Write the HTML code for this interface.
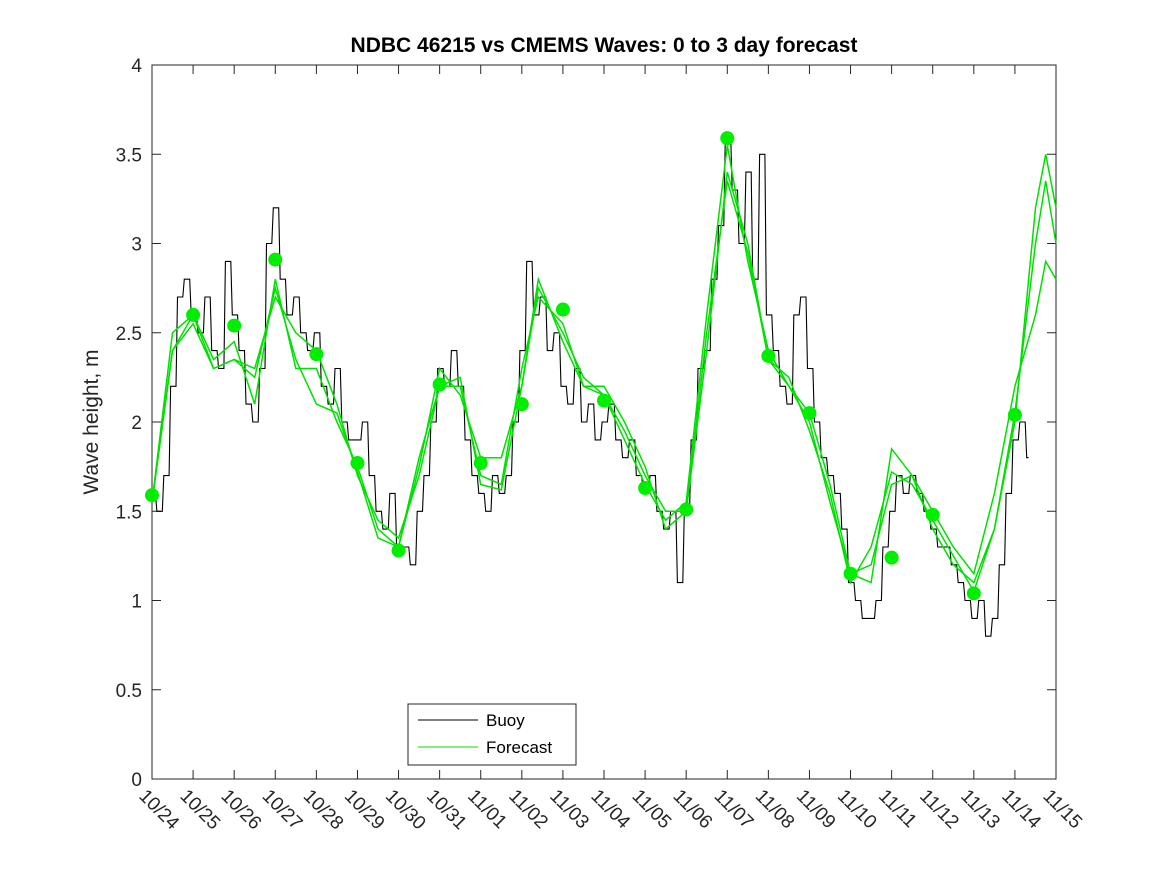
<!DOCTYPE html>
<html><head><meta charset="utf-8"><style>
body{margin:0;background:#fff}
svg{display:block;font-family:"Liberation Sans","DejaVu Sans",sans-serif}
</style></head><body>
<svg id="chart" width="1167" height="875">
<rect x="0" y="0" width="1167" height="875" fill="#fff"/>
<text x="604" y="52" text-anchor="middle" font-size="21" font-weight="bold">NDBC 46215 vs CMEMS Waves: 0 to 3 day forecast</text>
<text transform="translate(98,422) rotate(-90)" text-anchor="middle" font-size="21" fill="#262626">Wave height, m</text>
<g id="axes"></g>
<g id="marks"></g>
<g>
<rect x="408" y="704" width="168" height="61" fill="#fff" stroke="#262626" stroke-width="1"/>
<line x1="418" y1="720" x2="478" y2="720" stroke="#000" stroke-width="1"/>
<text x="486" y="726" font-size="17">Buoy</text>
<line x1="418" y1="747" x2="478" y2="747" stroke="#00dd00" stroke-width="1"/>
<text x="486" y="753" font-size="17">Forecast</text>
</g>
</svg>
<script>
const xTickLabels=["10/24","10/25","10/26","10/27","10/28","10/29","10/30","10/31","11/01","11/02","11/03","11/04","11/05","11/06","11/07","11/08","11/09","11/10","11/11","11/12","11/13","11/14","11/15"];
const yTicks=[0,0.5,1,1.5,2,2.5,3,3.5,4];
const yTickLabels=["0","0.5","1","1.5","2","2.5","3","3.5","4"];
const buoyStep=1/6;
const buoy=[1.6,1.5,1.7,2.2,2.7,2.8,
2.6,2.5,2.7,2.4,2.3,2.9,
2.6,2.4,2.1,2.0,2.3,3.0,
3.2,2.8,2.6,2.7,2.5,2.4,
2.5,2.2,2.1,2.3,2.0,1.9,
1.9,2.0,1.7,1.5,1.4,1.6,
1.3,1.3,1.2,1.5,1.7,2.0,
2.3,2.2,2.4,2.2,1.9,1.7,
1.6,1.5,1.7,1.6,1.7,2.0,
2.4,2.9,2.6,2.7,2.4,2.5,
2.2,2.1,2.3,2.0,2.1,1.9,
2.0,2.1,1.9,1.8,1.9,1.7,
1.6,1.7,1.5,1.4,1.5,1.1,
1.5,1.9,2.3,2.4,2.8,3.1,
3.6,3.3,3.0,3.4,2.8,3.5,
2.6,2.4,2.2,2.1,2.6,2.7,
2.3,2.0,1.8,1.7,1.6,1.4,
1.1,1.0,0.9,0.9,1.0,1.3,
1.5,1.7,1.6,1.7,1.6,1.5,
1.4,1.3,1.3,1.2,1.1,1.0,
0.9,1.0,0.8,0.9,1.2,1.6,
1.9,2.0,1.8];
const fcDays=[0,0.5,1,1.5,2,2.5,3,3.5,4,4.5,5,5.5,6,6.5,7,7.5,8,8.5,9,9.4,10,10.5,11,11.5,12,12.5,13,13.5,14,14.5,15,15.5,16,16.5,17,17.5,18,18.5,19,19.5,20,20.5,21,21.5,21.75,22];
const fcA=[1.55,2.4,2.6,2.35,2.45,2.1,2.8,2.3,2.3,2.0,1.75,1.4,1.3,1.75,2.3,2.15,1.8,1.8,2.2,2.8,2.45,2.2,2.15,1.9,1.65,1.45,1.55,2.6,3.55,2.9,2.4,2.2,2.0,1.55,1.15,1.1,1.85,1.7,1.4,1.2,1.1,1.4,2.0,3.2,3.5,3.2];
const fcB=[1.55,2.4,2.55,2.3,2.35,2.3,2.7,2.5,2.4,2.1,1.7,1.45,1.35,1.7,2.2,2.25,1.65,1.62,2.2,2.75,2.5,2.25,2.15,1.95,1.7,1.5,1.5,2.5,3.35,2.95,2.35,2.25,1.95,1.6,1.1,1.3,1.72,1.65,1.45,1.25,1.05,1.4,2.05,3.0,3.35,3.0];
const fcC=[1.55,2.5,2.6,2.3,2.35,2.25,2.75,2.35,2.1,2.05,1.72,1.35,1.3,1.8,2.2,2.2,1.7,1.65,2.3,2.7,2.55,2.2,2.2,2.0,1.75,1.4,1.5,2.4,3.4,3.0,2.35,2.2,2.05,1.65,1.15,1.2,1.65,1.7,1.5,1.3,1.15,1.6,2.2,2.6,2.9,2.8];
const dotValues=[1.59,2.6,2.54,2.91,2.38,1.77,1.28,2.21,1.77,2.1,2.63,2.12,1.63,1.51,3.59,2.37,2.05,1.15,1.24,1.48,1.04,2.04];

const L=152,R=1056,T=65,B=779,ND=22;
const xs=d=>L+(R-L)*d/ND;
const ys=v=>B-(B-T)*v/4;
const NS="http://www.w3.org/2000/svg";
function mk(tag,attrs,parent){const e=document.createElementNS(NS,tag);for(const k in attrs)e.setAttribute(k,attrs[k]);parent.appendChild(e);return e;}
const axes=document.getElementById('axes'),marks=document.getElementById('marks');
const frame=mk('rect',{x:L,y:T,width:R-L,height:B-T,fill:'none',stroke:'#262626','stroke-width':1},axes);


yTicks.forEach((v,i)=>{
  const y=ys(v);
  mk('line',{x1:L,y1:y,x2:L+9,y2:y,stroke:'#262626'},axes);
  mk('line',{x1:R,y1:y,x2:R-9,y2:y,stroke:'#262626'},axes);
  const t=mk('text',{x:L-10,y:y+7,'text-anchor':'end','font-size':19,fill:'#262626'},axes);
  t.textContent=yTickLabels[i];
  
  
});
xTickLabels.forEach((lab,i)=>{
  const x=xs(i);
  mk('line',{x1:x,y1:B,x2:x,y2:B-9,stroke:'#262626'},axes);
  mk('line',{x1:x,y1:T,x2:x,y2:T+9,stroke:'#262626'},axes);
  const t=mk('text',{x:0,y:0,'font-size':19,fill:'#262626',transform:`translate(${x-14},${B+18}) rotate(45)`},axes);
  t.textContent=lab;
  
  
});
// buoy drawn as hourly-like stair steps between samples
let bpts=[];
buoy.forEach((v,i)=>{
  const x0=xs(i*buoyStep), x1=xs((i+1)*buoyStep), y=ys(v);
  bpts.push(x0.toFixed(1)+','+y.toFixed(1));
  if(i<buoy.length-1){
    const xm=(x0+x1)/2, yn=ys(buoy[i+1]);
    bpts.push(xm.toFixed(1)+','+y.toFixed(1));
    bpts.push((xm+1.5).toFixed(1)+','+yn.toFixed(1));
  }
});
const bl=mk('polyline',{points:bpts.join(' '),fill:'none',stroke:'#000','stroke-width':1.1},marks);


[fcA,fcB,fcC].forEach((arr,k)=>{
  const p=arr.map((v,i)=>xs(fcDays[i]).toFixed(1)+','+ys(v).toFixed(1)).join(' ');
  const pl=mk('polyline',{points:p,fill:'none',stroke:'#00e000','stroke-width':1.5},marks);
  
  
});
dotValues.forEach((v,i)=>{
  const c=mk('circle',{cx:xs(i),cy:ys(v),r:7,fill:'#00ee00'},marks);
  
  
});
</script>
</body></html>
